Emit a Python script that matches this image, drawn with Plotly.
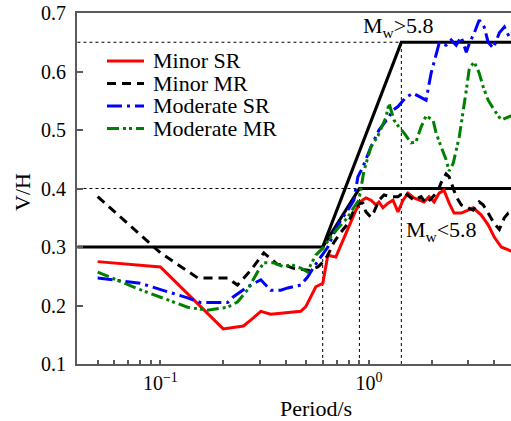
import math
import plotly.graph_objects as go

FONT = "Liberation Serif"

# ---------------- data ----------------
minor_sr_T = [0.05, 0.1, 0.2, 0.25, 0.271, 0.303, 0.338, 0.399, 0.471, 0.498, 0.556, 0.601,
              0.635, 0.694, 0.775, 0.866, 0.915, 0.967, 1.022, 1.081, 1.117, 1.167, 1.234,
              1.304, 1.378, 1.457, 1.54, 1.645, 1.838, 1.942, 2.053, 2.17, 2.29, 2.425, 2.56,
              2.77, 2.99, 3.16, 3.45, 3.73, 3.99, 4.31, 4.66, 4.87, 5.0]
minor_sr_vh = [0.275, 0.266, 0.16, 0.165, 0.175, 0.19, 0.185, 0.187, 0.19, 0.198, 0.232, 0.238,
               0.286, 0.283, 0.324, 0.363, 0.378, 0.384, 0.38, 0.372, 0.377, 0.367, 0.375,
               0.38, 0.36, 0.38, 0.392, 0.384, 0.377, 0.386, 0.377, 0.392, 0.397, 0.375, 0.358,
               0.358, 0.363, 0.367, 0.355, 0.338, 0.317, 0.30, 0.295, 0.292, 0.29]

minor_mr_T = [0.05, 0.1, 0.151, 0.21, 0.234, 0.271, 0.313, 0.338, 0.365, 0.39, 0.431, 0.471,
              0.52, 0.569, 0.601, 0.635, 0.679, 0.733, 0.792, 0.847, 0.895, 0.936, 0.967,
              1.022, 1.057, 1.117, 1.181, 1.276, 1.378, 1.473, 1.54, 1.645, 1.778, 1.879,
              2.03, 2.147, 2.22, 2.345, 2.425, 2.535, 2.62, 2.77, 2.93, 3.16, 3.38, 3.53,
              3.73, 3.99, 4.22, 4.46, 4.66, 4.87, 5.0]
minor_mr_vh = [0.386, 0.29, 0.247, 0.247, 0.235, 0.26, 0.29, 0.28, 0.27, 0.27, 0.264, 0.262,
               0.26, 0.266, 0.274, 0.286, 0.308, 0.325, 0.34, 0.363, 0.375, 0.375, 0.36,
               0.351, 0.36, 0.38, 0.389, 0.386, 0.386, 0.394, 0.389, 0.38, 0.386, 0.375,
               0.386, 0.397, 0.41, 0.425, 0.42, 0.40, 0.386, 0.372, 0.368, 0.363, 0.377, 0.372,
               0.358, 0.34, 0.33, 0.35, 0.358, 0.358, 0.356]

moderate_sr_T = [0.05, 0.08, 0.135, 0.156, 0.21, 0.224, 0.262, 0.303, 0.338, 0.378, 0.408,
                 0.471, 0.509, 0.544, 0.588, 0.635, 0.679, 0.733, 0.792, 0.847, 0.885, 0.936,
                 1.022, 1.117, 1.234, 1.304, 1.378, 1.425, 1.506, 1.627, 1.778, 1.879, 1.986,
                 2.099, 2.17, 2.345, 2.48, 2.62, 2.77, 2.93, 3.03, 3.20, 3.38, 3.57, 3.73,
                 3.95, 4.22, 4.46, 4.71, 4.87, 5.0]
moderate_sr_vh = [0.247, 0.238, 0.213, 0.205, 0.205, 0.215, 0.232, 0.244, 0.226, 0.226, 0.23,
                  0.235, 0.249, 0.266, 0.283, 0.30, 0.324, 0.346, 0.363, 0.38, 0.42, 0.437,
                  0.471, 0.5, 0.52, 0.534, 0.54, 0.546, 0.556, 0.563, 0.556, 0.551, 0.597,
                  0.628, 0.648, 0.645, 0.654, 0.645, 0.659, 0.633, 0.648, 0.666, 0.688, 0.676, 0.65,
                  0.64, 0.666, 0.676, 0.659, 0.666, 0.66]

moderate_mr_T = [0.05, 0.08, 0.135, 0.168, 0.21, 0.234, 0.262, 0.292, 0.313, 0.349, 0.39,
                 0.422, 0.471, 0.509, 0.526, 0.556, 0.601, 0.656, 0.718, 0.792, 0.847, 0.895,
                 0.946, 1.022, 1.105, 1.207, 1.248, 1.319, 1.393, 1.473, 1.592, 1.682, 1.778,
                 1.879, 2.03, 2.099, 2.22, 2.345, 2.425, 2.535, 2.71, 2.83, 2.93, 3.03, 3.20,
                 3.38, 3.53, 3.73, 3.99, 4.31, 4.66, 4.87, 5.0]
moderate_mr_vh = [0.257, 0.227, 0.197, 0.192, 0.197, 0.206, 0.227, 0.257, 0.273, 0.273, 0.266,
                  0.27, 0.264, 0.257, 0.27, 0.286, 0.298, 0.317, 0.334, 0.351, 0.368, 0.38,
                  0.43, 0.471, 0.49, 0.522, 0.546, 0.517, 0.505, 0.495, 0.478, 0.48, 0.505,
                  0.524, 0.517, 0.495, 0.471, 0.449, 0.43, 0.443, 0.488, 0.53, 0.568, 0.606, 0.616,
                  0.597, 0.574, 0.551, 0.534, 0.517, 0.523, 0.526, 0.527]

series_names = ["Minor SR", "Minor MR", "Moderate SR", "Moderate MR"]
series_T = [minor_sr_T, minor_mr_T, moderate_sr_T, moderate_mr_T]
series_vh = [minor_sr_vh, minor_mr_vh, moderate_sr_vh, moderate_mr_vh]

# design V/H spectra (M_w>5.8 and M_w<5.8)
upper_T = [0.04, 0.6, 1.43, 5.0]
upper_vh = [0.3, 0.3, 0.65, 0.65]
lower_T = [0.6, 0.9, 5.0]
lower_vh = [0.3, 0.4, 0.4]

x_tick_vals = [0.1, 1]
x_tick_text = ["10<sup>\u22121</sup>", "10<sup>0</sup>"]
x_minor_vals = [0.04, 0.05, 0.06, 0.07, 0.08, 0.09, 0.2, 0.3, 0.4, 0.5, 0.6, 0.7, 0.8, 0.9, 2, 3, 4]
y_tick_vals = [0.1, 0.2, 0.3, 0.4, 0.5, 0.6, 0.7]
y_tick_text = ["0.1", "0.2", "0.3", "0.4", "0.5", "0.6", "0.7"]

# ---------------- styles ----------------
colors = ["#ff0000", "#000000", "#0000ff", "#008000"]
dashes = ["solid", "9px,6px", "15px,5px,3px,5px", "12px,4px,3px,3px,3px,4px"]

W, H = 511, 421
ML, MR, MT, MB = 77, 0, 13, 57
PW, PH = W - ML - MR, H - MT - MB


def px_x(px):
    return (px - ML) / PW


def px_y(py):
    return (H - MB - py) / PH


def tfont(size):
    return dict(family=FONT, size=size, color="black")


fig = go.Figure()

# dotted guide lines
guide = dict(color="#000000", width=1, dash="dot")
fig.add_trace(go.Scatter(x=[upper_T[0], upper_T[2]], y=[upper_vh[2], upper_vh[2]], mode="lines",
                         line=guide, showlegend=False, hoverinfo="skip"))
fig.add_trace(go.Scatter(x=[upper_T[0], lower_T[1]], y=[lower_vh[1], lower_vh[1]], mode="lines",
                         line=guide, showlegend=False, hoverinfo="skip"))
for t, v in [(upper_T[1], upper_vh[1]), (lower_T[1], lower_vh[1]), (upper_T[2], upper_vh[2])]:
    fig.add_trace(go.Scatter(x=[t, t], y=[y_tick_vals[0], v], mode="lines", line=guide,
                             showlegend=False, hoverinfo="skip"))

# design spectra
fig.add_trace(go.Scatter(x=upper_T, y=upper_vh, mode="lines", line=dict(color="black", width=3.2),
                         showlegend=False, hoverinfo="skip"))
fig.add_trace(go.Scatter(x=lower_T, y=lower_vh, mode="lines", line=dict(color="black", width=3.2),
                         showlegend=False, hoverinfo="skip"))

# data series
for name, T, vh, c, d in zip(series_names, series_T, series_vh, colors, dashes):
    fig.add_trace(go.Scatter(x=T, y=vh, mode="lines", name=name,
                             line=dict(color=c, width=3, dash=d), showlegend=False))

# manual legend (compact row spacing as in the reference)
shapes = []
annotations = []
leg_rows = [61, 83.5, 106, 128.5]
for name, c, d, py in zip(series_names, colors, dashes, leg_rows):
    shapes.append(dict(type="line", xref="paper", yref="paper", x0=px_x(107), x1=px_x(144),
                       y0=px_y(py), y1=px_y(py), line=dict(color=c, width=3, dash=d)))
    annotations.append(dict(xref="paper", yref="paper", x=px_x(151), y=px_y(py), text=name,
                            showarrow=False, xanchor="left", yanchor="middle", font=tfont(22)))

annotations.append(dict(xref="paper", yref="paper", x=px_x(398), y=px_y(27),
                        text="M<sub>w</sub>&gt;5.8", showarrow=False, xanchor="center",
                        yanchor="middle", font=tfont(22)))
annotations.append(dict(xref="paper", yref="paper", x=px_x(441), y=px_y(231),
                        text="M<sub>w</sub>&lt;5.8", showarrow=False, xanchor="center",
                        yanchor="middle", font=tfont(22)))
annotations.append(dict(xref="paper", yref="paper", x=px_x(316), y=px_y(408),
                        text="Period/s", showarrow=False, xanchor="center", yanchor="middle",
                        font=tfont(22)))
annotations.append(dict(xref="paper", yref="paper", x=px_x(22), y=px_y(192),
                        text="V/H", showarrow=False, xanchor="center", yanchor="middle",
                        textangle=-90, font=tfont(22)))

axis_col = "#5a5a5a"
fig.update_layout(
    width=W, height=H,
    margin=dict(l=ML, r=MR, t=MT, b=MB, pad=0),
    paper_bgcolor="white", plot_bgcolor="white",
    showlegend=False,
    shapes=shapes, annotations=annotations,
    font=tfont(20),
    xaxis=dict(type="log", range=[math.log10(0.0398), math.log10(4.80)],
               showgrid=False, zeroline=False, showline=True, linecolor=axis_col, linewidth=2,
               mirror=True, ticks="inside", ticklen=4, tickwidth=1.5, tickcolor=axis_col,
               tickvals=x_tick_vals, ticktext=x_tick_text, tickfont=tfont(20),
               minor=dict(tickvals=x_minor_vals, ticks="inside", ticklen=4, tickwidth=1.5,
                          tickcolor=axis_col, showgrid=False)),
    yaxis=dict(range=[0.1, 0.7], showgrid=False, zeroline=False, showline=True,
               linecolor=axis_col, linewidth=2, ticks="inside", ticklen=6, tickwidth=1.5,
               tickcolor=axis_col, tickvals=y_tick_vals, ticktext=y_tick_text,
               tickfont=tfont(20), ticklabelstandoff=5),
)

fig.write_html("out.html", config={"displayModeBar": False},
               post_script="document.body.style.margin='0';document.body.style.padding='0';")
